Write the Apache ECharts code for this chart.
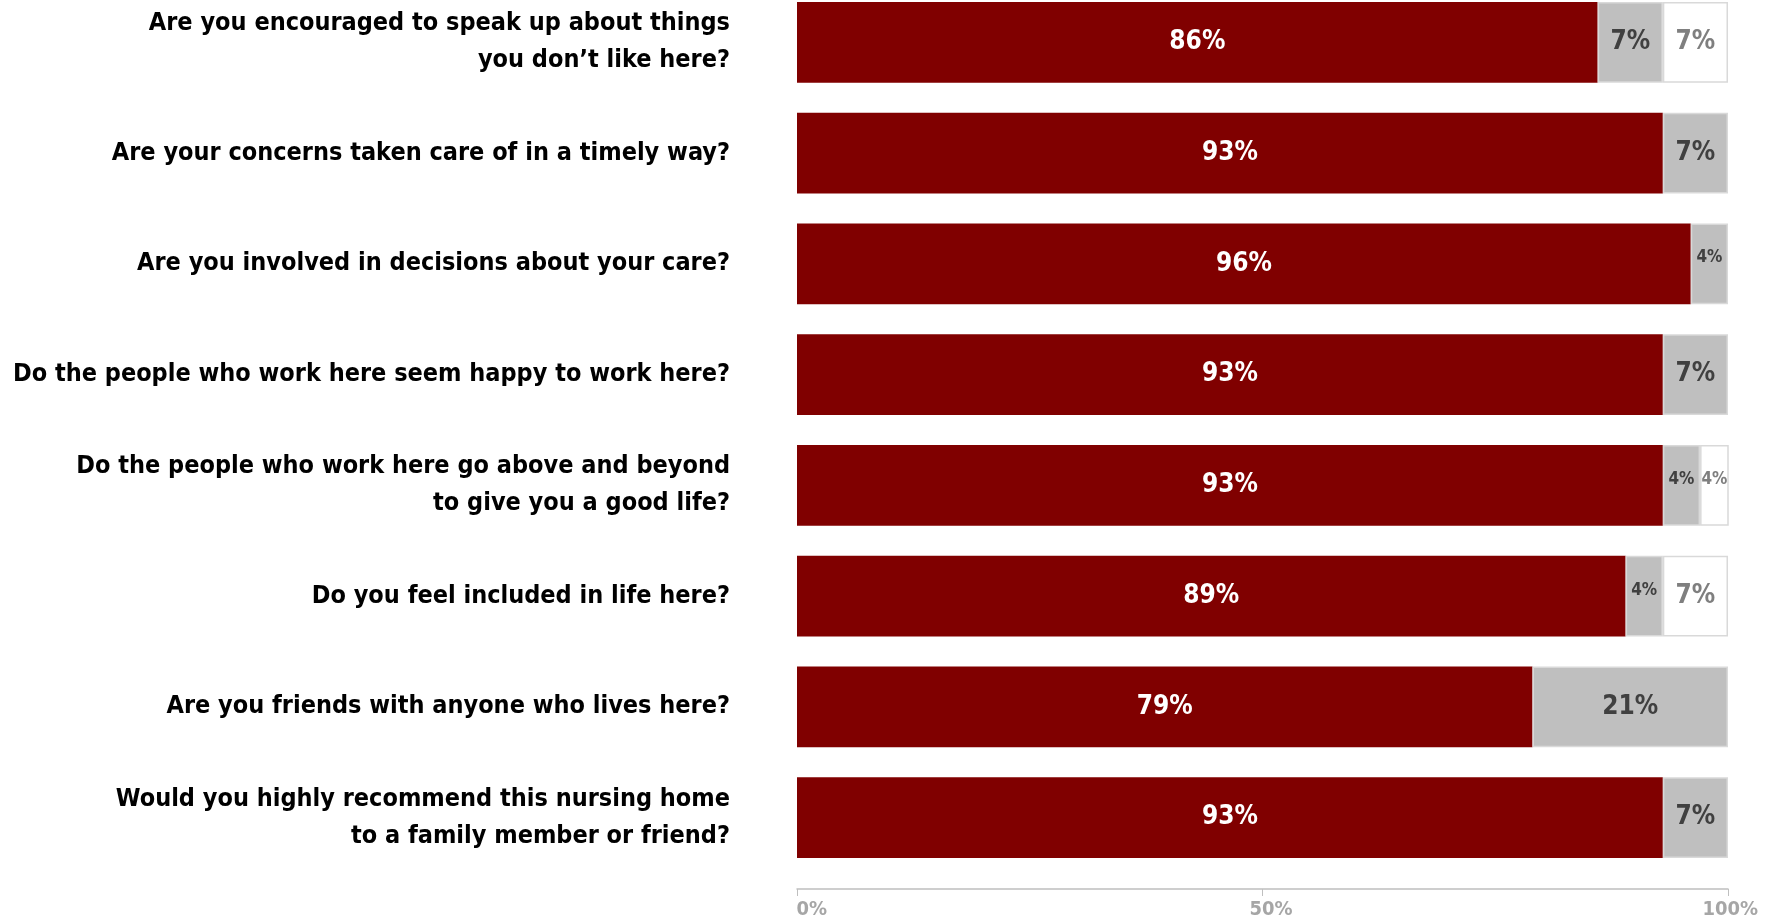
<!DOCTYPE html>
<html>
<head>
<meta charset="utf-8">
<script src="https://cdn.jsdelivr.net/npm/echarts@6/dist/echarts.min.js"></script>
<style>
  html, body { margin: 0; padding: 0; background: #ffffff; }
  #chart { width: 1772px; height: 920px; }
</style>
</head>
<body>
<div id="chart"></div>
<script>
// Survey questions (top to bottom)
const questions = [
  'Are you encouraged to speak up about things\nyou don\u2019t like here?',
  'Are your concerns taken care of in a timely way?',
  'Are you involved in decisions about your care?',
  'Do the people who work here seem happy to work here?',
  'Do the people who work here go above and beyond\nto give you a good life?',
  'Do you feel included in life here?',
  'Are you friends with anyone who lives here?',
  'Would you highly recommend this nursing home\nto a family member or friend?'
];

// Response shares in percent
const yesValues = [86, 93, 96, 93, 93, 89, 79, 93];
const noValues = [7, 7, 4, 7, 4, 4, 21, 7];
const otherValues = [7, 0, 0, 0, 4, 7, 0, 0];

// Value axis ticks
const axisTicks = [0, 50, 100];

const FONT = '"Liberation Sans Narrow", "DejaVu Sans Condensed", "Noto Sans", sans-serif';

function segLabel(color) {
  return {
    show: true,
    position: 'inside',
    fontFamily: FONT,
    fontWeight: 'bold',
    color: color,
    formatter: p => (p.value ? p.value + '%' : '')
  };
}

// Narrow segments get a smaller label sitting slightly high
function sizedData(arr) {
  return arr.map(v => {
    if (!(v > 0)) return null;
    const small = v < 5;
    return {
      value: v,
      label: small ? { fontSize: 17, offset: [0, -6] } : { fontSize: 26 }
    };
  });
}

const chart = echarts.init(document.getElementById('chart'), null, { renderer: 'canvas' });

chart.setOption({
  backgroundColor: '#ffffff',
  animation: false,
  grid: {
    left: 797, right: 44, top: -13, bottom: 47,
    containLabel: false,
    outerBoundsMode: 'none'
  },
  xAxis: {
    type: 'value',
    min: 0,
    max: 100,
    interval: 50,
    offset: 16,
    splitLine: { show: false },
    axisLine: { show: true, lineStyle: { color: '#bfbfbf', width: 1.5 } },
    axisTick: { show: true, length: 7, lineStyle: { color: '#bfbfbf' } },
    axisLabel: {
      fontFamily: FONT,
      fontWeight: 'bold',
      fontSize: 20,
      color: '#a6a6a6',
      margin: 11,
      align: 'right',
      padding: [0, -30, 0, 0],
      formatter: v => (axisTicks.indexOf(v) >= 0 ? v + '%' : '')
    }
  },
  yAxis: {
    type: 'category',
    data: questions,
    inverse: true,
    axisLine: { show: false },
    axisTick: { show: false },
    axisLabel: {
      fontFamily: FONT,
      fontWeight: 'bold',
      fontSize: 25,
      lineHeight: 37,
      color: '#000000',
      margin: 67,
      align: 'right'
    }
  },
  series: [
    {
      name: 'Yes',
      type: 'bar',
      stack: 'all',
      barWidth: '73%',
      data: sizedData(yesValues),
      itemStyle: { color: '#800000' },
      label: segLabel('#ffffff')
    },
    {
      name: 'No',
      type: 'bar',
      stack: 'all',
      data: sizedData(noValues),
      itemStyle: { color: '#bfbfbf', borderColor: '#d9d9d9', borderWidth: 1.5 },
      label: segLabel('#404040')
    },
    {
      name: 'Other',
      type: 'bar',
      stack: 'all',
      data: sizedData(otherValues),
      itemStyle: { color: '#ffffff', borderColor: '#d9d9d9', borderWidth: 1.5 },
      label: segLabel('#7f7f7f')
    }
  ]
});
</script>
</body>
</html>
